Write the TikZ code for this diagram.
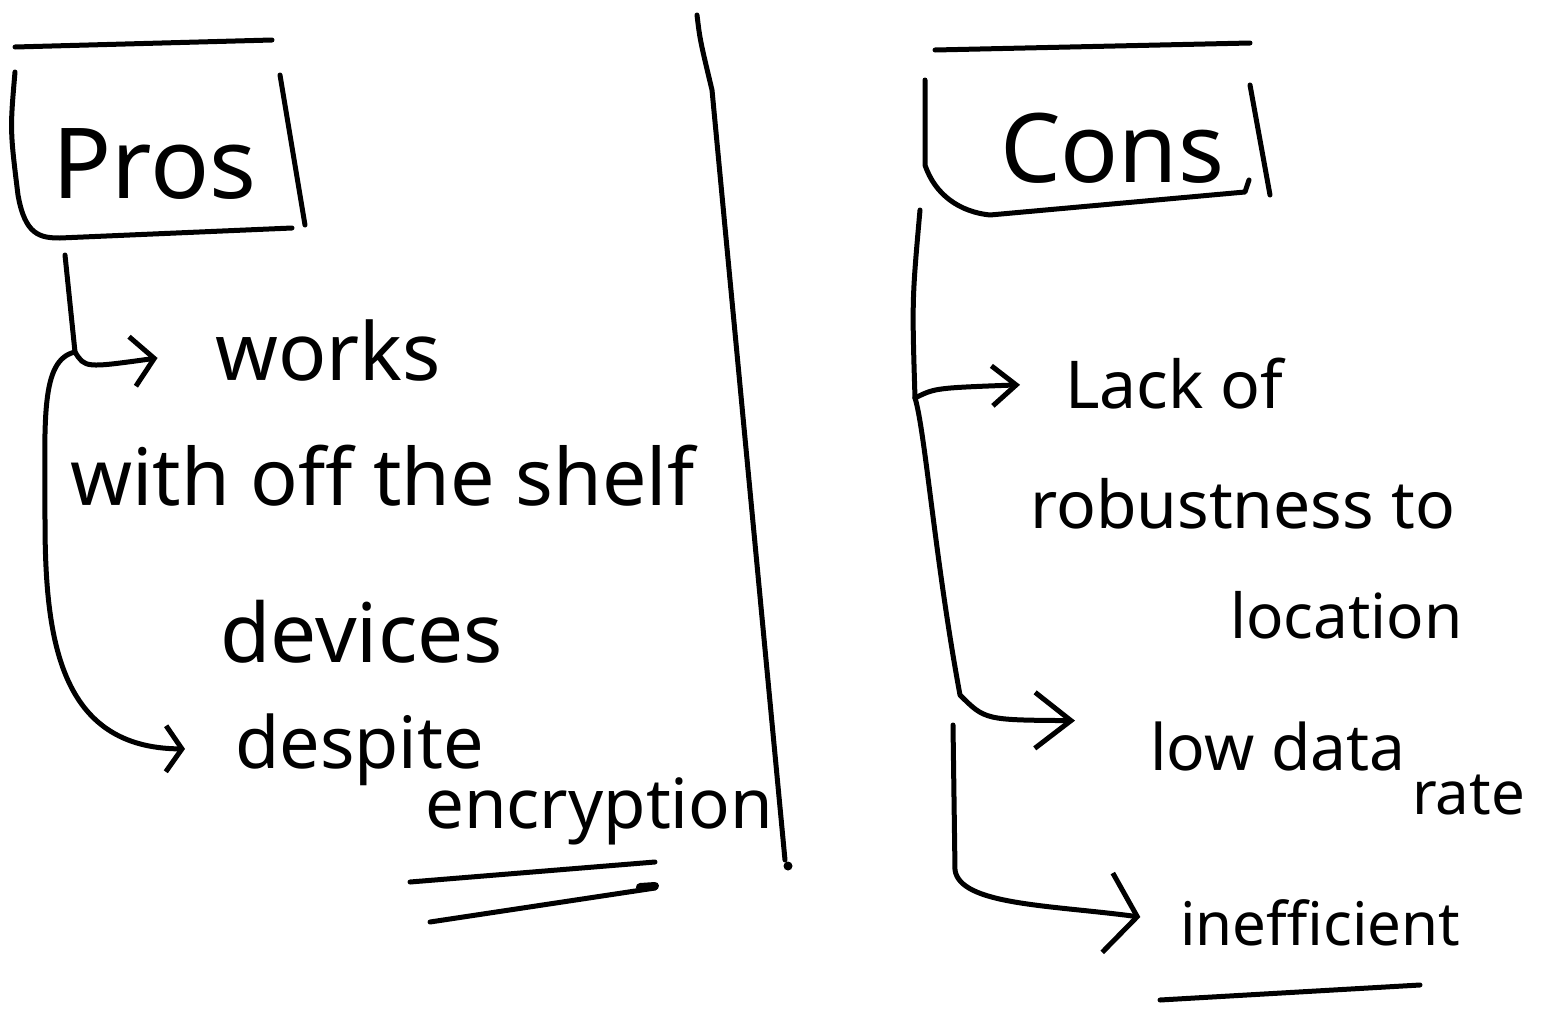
\documentclass[tikz,border=0pt]{standalone}
\usepackage{fontspec}
\setmainfont{Noto Sans}
\usetikzlibrary{arrows.meta}
\begin{document}
\begin{tikzpicture}[x=1pt,y=-1pt,
  pen/.style={line width=5pt, line cap=round, line join=round},
  txt/.style={inner sep=0pt, anchor=base west},
  fs/.style={font=\fontsize{#1}{#1}\selectfont},
  barb/.style 2 args={-{Straight Barb[length=#1pt,width=#2pt]}}]
\useasboundingbox (0,0) rectangle (1556,1010);

% headings
\node[txt,fs=98] (pros) at (52,198) {Pros};
\node[txt,fs=96] (cons) at (1000,182) {Cons};

% pros texts
\node[txt,fs=80] (works) at (215,380) {works};
\node[txt,fs=79] (offshelf) at (70,505) {with off the shelf};
\node[txt,fs=82] (devices) at (220,662) {devices};
\node[txt,fs=72] (despite) at (235,768) {despite};
\node[txt,fs=69] (encryption) at (425,828) {encryption};

% cons texts
\node[txt,fs=66] (lackof) at (1065,408) {Lack of};
\node[txt,fs=66] (robust) at (1030,528) {robustness to};
\node[txt,fs=62] (location) at (1230,638) {location};
\node[txt,fs=64] (lowdata) at (1150,770) {low data};
\node[txt,fs=60] (rate) at (1412,814) {rate};
\node[txt,fs=60] (ineff) at (1180,945) {inefficient};

% pros frame
\draw[pen] (15,47) -- (272,40);
\draw[pen] (15,72) .. controls (10,130) .. (18,195)
  .. controls (25,235) and (40,238) .. (60,238) -- (292,228);
\draw[pen] (280,75) -- (305,225);

% cons frame
\draw[pen] (935,50) -- (1250,43);
\draw[pen] (925,80) -- (925,165) .. controls (935,195) and (960,212) .. (990,215)
  -- (1245,192) -- (1249,180);
\draw[pen] (1250,85) -- (1270,195);

% divider
\draw[pen] (697,15) .. controls (700,40) .. (712,90) -- (785,860);
\fill (788,866) circle (4.5pt);

% pros branches
\coordinate (pstem) at (65,255);
\coordinate (pfork) at (75,352);
\draw[pen] (pstem) -- (pfork);
\draw[pen,barb={22}{50},shorten >=58pt] (pfork) .. controls (85,368) .. (works.west);
\draw[pen,barb={16}{46},shorten >=50pt] (pfork) .. controls (40,360) and (45,420) .. (45,520)
  .. controls (45,640) and (60,748) .. (despite.west);

% pros underlines
\draw[pen] (410,882) -- (655,862);
\draw[pen] (430,922) -- (655,888);
\draw[line width=8pt,line cap=round] (640,887) -- (655,886);

% cons branches
\coordinate (cstem) at (920,210);
\coordinate (cfork) at (915,398);
\coordinate (cstemb) at (953,725);
\draw[pen] (cstem) .. controls (912,300) .. (cfork);
\draw[pen,barb={24}{40},shorten >=45pt] (cfork) .. controls (935,388) .. (lackof.west);
\draw[pen,barb={36}{56},shorten >=75pt] (cfork) .. controls (925,430) and (935,560) .. (960,695)
  .. controls (985,720) .. (lowdata.north west);
\draw[pen,barb={30}{80},shorten >=40pt] (cstemb) -- (955,870)
  .. controls (960,905) and (1050,905) .. (ineff.west);

% cons underline
\draw[pen] (1160,1000) -- (1420,985);
\end{tikzpicture}
\end{document}
